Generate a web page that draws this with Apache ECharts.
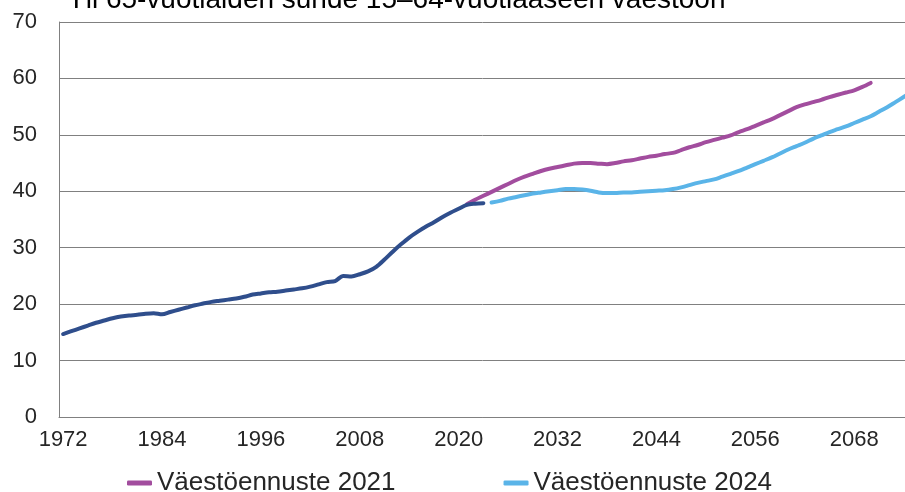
<!DOCTYPE html>
<html>
<head>
<meta charset="utf-8">
<script src="https://cdn.jsdelivr.net/npm/echarts@6/dist/echarts.min.js"></script>
<style>
    html, body {margin: 0; padding: 0; background: #fff;}
    #main {width: 905px; height: 492px;}
</style>
</head>
<body>
<div id="main"></div>
<script>
const titleText = 'Yli 65-vuotiaiden suhde 15–64-vuotiaaseen väestöön';
const firstYear = 1972;
const lastYear = 2075;

// toteutunut 1972–2023
const historyStart = 1972;
const history = [
    14.7, 15.2, 15.7, 16.2, 16.7, 17.1, 17.5, 17.8, 18.0, 18.1,
    18.3, 18.4, 18.2, 18.6, 19.0, 19.4, 19.8, 20.1, 20.4, 20.6,
    20.8, 21.0, 21.3, 21.7, 21.9, 22.1, 22.2, 22.4, 22.6, 22.8,
    23.1, 23.5, 23.9, 24.1, 25.0, 24.9, 25.3, 25.8, 26.6, 27.9,
    29.3, 30.6, 31.8, 32.8, 33.7, 34.5, 35.4, 36.2, 36.9, 37.6,
    37.8, 37.9
];

// Väestöennuste 2021, 2021–2070
const forecast2021Start = 2021;
const forecast2021 = [
    37.7, 38.5, 39.2, 39.9, 40.6, 41.3, 42.0, 42.6, 43.1, 43.6,
    44.0, 44.3, 44.6, 44.9, 45.0, 45.0, 44.9, 44.8, 45.0, 45.3,
    45.5, 45.8, 46.1, 46.3, 46.6, 46.8, 47.3, 47.8, 48.2, 48.7,
    49.1, 49.5, 49.9, 50.5, 51.0, 51.6, 52.2, 52.8, 53.5, 54.2,
    54.9, 55.4, 55.8, 56.2, 56.7, 57.1, 57.5, 57.9, 58.5, 59.2
];

// Väestöennuste 2024, 2024–2075
const forecast2024Start = 2024;
const forecast2024 = [
    38.0, 38.3, 38.7, 39.0, 39.3, 39.6, 39.8, 40.0, 40.2, 40.4,
    40.4, 40.3, 40.1, 39.8, 39.7, 39.7, 39.8, 39.8, 39.9, 40.0,
    40.1, 40.2, 40.4, 40.7, 41.1, 41.5, 41.8, 42.1, 42.6, 43.1,
    43.6, 44.2, 44.8, 45.4, 46.0, 46.7, 47.4, 48.0, 48.6, 49.3,
    49.9, 50.5, 51.0, 51.5, 52.1, 52.7, 53.3, 54.1, 54.9, 55.8,
    56.7, 57.6
];

const years = [];
for (let y = firstYear; y <= lastYear; y++) years.push(String(y));

// pad a series with nulls so it lines up with the year categories
const align = (values, start) => {
    const out = new Array(start - firstYear).fill(null).concat(values);
    while (out.length < years.length) out.push(null);
    return out;
};

const font = 'Liberation Sans, Arial, sans-serif';
const textColor = '#262626';
const gridColor = '#808080';

const line = (name, data, color) => ({
    name,
    type: 'line',
    data,
    smooth: 0.3,
    showSymbol: false,
    connectNulls: false,
    lineStyle: {color, width: 4, cap: 'round', join: 'round'},
    itemStyle: {color},
    emphasis: {disabled: true}
});

const chart = echarts.init(document.getElementById('main'));
chart.setOption({
    animation: false,
    textStyle: {fontFamily: font},
    title: {
        text: titleText,
        left: 62,
        top: -19,
        textStyle: {fontSize: 28, fontWeight: 'normal', color: '#000', fontFamily: font}
    },
    grid: {left: 59, right: -11, top: 22, bottom: 75, outerBoundsMode: 'none'},
    legend: {
        data: ['Väestöennuste 2021', 'Väestöennuste 2024'],
        left: 122,
        top: 465,
        icon: 'roundRect',
        itemWidth: 25,
        itemHeight: 5,
        itemGap: 108,
        textStyle: {fontSize: 26, color: textColor, fontFamily: font}
    },
    xAxis: {
        type: 'category',
        data: years,
        boundaryGap: true,
        axisLine: {lineStyle: {color: gridColor, width: 1}},
        axisTick: {show: false},
        axisLabel: {interval: 11, margin: 12, fontSize: 22, color: textColor, fontFamily: font}
    },
    yAxis: {
        type: 'value',
        min: 0,
        max: 70,
        interval: 10,
        axisLine: {show: true, lineStyle: {color: gridColor, width: 1}},
        axisTick: {show: false},
        splitLine: {lineStyle: {color: gridColor, width: 1}},
        axisLabel: {margin: 22, fontSize: 22, color: textColor, fontFamily: font}
    },
    series: [
        line('Väestöennuste 2021', align(forecast2021, forecast2021Start), '#A24D9E'),
        line('Väestöennuste 2024', align(forecast2024, forecast2024Start), '#5AB4E8'),
        line('Toteutunut', align(history, historyStart), '#2F4E8C')
    ]
});
</script>
</body>
</html>
